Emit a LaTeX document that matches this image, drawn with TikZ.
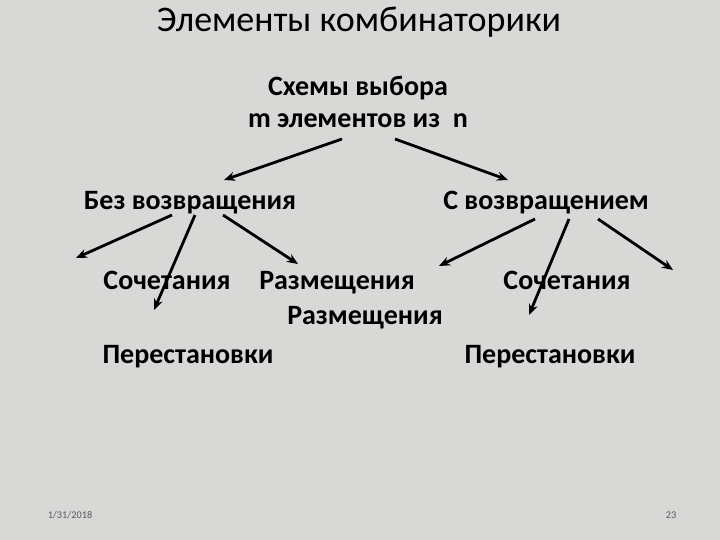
\documentclass[tikz,border=0pt]{standalone}
\usepackage{fontspec}
\setmainfont{Carlito}
\usetikzlibrary{arrows.meta}
\definecolor{bgstone}{RGB}{216,216,214}
\tikzset{
  lbl/.style={font=\bfseries\fontsize{28}{32}\selectfont, inner sep=0pt, anchor=base},
  arr/.style={line width=2.8pt, -{Stealth[length=11pt,width=9pt]}},
  foot/.style={font=\fontsize{10.3}{12}\selectfont, text=black!65, inner sep=0pt, anchor=base}
}
\begin{document}
\begin{tikzpicture}[x=1pt,y=-1pt]
\fill[bgstone] (0,0) rectangle (720,540);
\useasboundingbox (0,0) rectangle (720,540);
\node[font=\fontsize{36}{40}\selectfont, inner sep=0pt, anchor=base] (title) at (359,32) {Элементы комбинаторики};
\node[lbl] (top1) at (358,96) {Схемы выбора};
\node[lbl] (top2) at (358,128) {m элементов из\ \ n};
\node[lbl] (bez) at (190,210) {Без возвращения};
\node[lbl] (svoz) at (546,210) {С возвращением};
\node[lbl] (soch1) at (167,289) {Сочетания};
\node[lbl] (razm1) at (337,289) {Размещения};
\node[lbl] (razm2) at (365,324) {Размещения};
\node[lbl] (soch2) at (567,289) {Сочетания};
\node[lbl] (per1) at (188,363) {Перестановки};
\node[lbl] (per2) at (550,363) {Перестановки};
\node[foot] (date) at (70,518) {1/31/2018};
\node[foot] (num) at (671,518) {23};
% arrow endpoints
\coordinate (a1s) at (342,139); \coordinate (a1e) at (224,180);
\coordinate (a2s) at (395,139); \coordinate (a2e) at (508,180);
\coordinate (b1s) at (172,215); \coordinate (b1e) at (76,258);
\coordinate (b2s) at (195,215); \coordinate (b2e) at (154,310);
\coordinate (b3s) at (223,215); \coordinate (b3e) at (298,264);
\coordinate (c1s) at (535,219); \coordinate (c1e) at (439,266);
\coordinate (c2s) at (569,219); \coordinate (c2e) at (529,315);
\coordinate (c3s) at (598,219); \coordinate (c3e) at (673,270);
\draw[arr] (a1s) -- (a1e);
\draw[arr] (a2s) -- (a2e);
\draw[arr] (b1s) -- (b1e);
\draw[arr] (b2s) -- (b2e);
\draw[arr] (b3s) -- (b3e);
\draw[arr] (c1s) -- (c1e);
\draw[arr] (c2s) -- (c2e);
\draw[arr] (c3s) -- (c3e);
\end{tikzpicture}
\end{document}
